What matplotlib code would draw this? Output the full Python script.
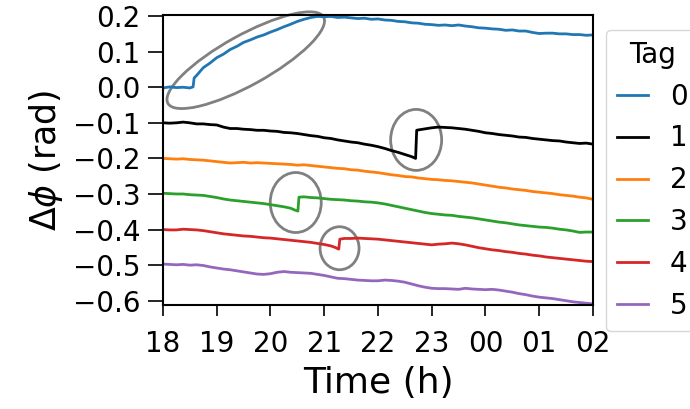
import matplotlib
matplotlib.use('Agg')
import matplotlib.pyplot as plt
from matplotlib.patches import Ellipse
from matplotlib.transforms import ScaledTranslation

# tag 0 (blue)
t0 = [18.0, 18.125, 18.25, 18.375, 18.5, 18.56, 18.58, 18.625, 18.75, 18.875, 19.0, 19.125, 19.25, 19.375,
      19.5, 19.625, 19.75, 19.875, 20.0, 20.125, 20.25, 20.375, 20.5, 20.625, 20.75, 20.875, 21.0, 21.125,
      21.25, 21.375, 21.5, 21.625, 21.75, 21.875, 22.0, 22.125, 22.25, 22.375, 22.5, 22.625, 22.75, 22.875,
      23.0, 23.125, 23.25, 23.375, 23.5, 23.625, 23.75, 23.875, 24.0, 24.125, 24.25, 24.375, 24.5, 24.625,
      24.75, 24.875, 25.0, 25.125, 25.25, 25.375, 25.5, 25.625, 25.75, 25.875, 26.0]
v0 = [-0.002, 0.001, -0.001, 0.000, -0.002, 0.001, 0.026, 0.033, 0.055, 0.068, 0.083, 0.093, 0.106, 0.115,
      0.126, 0.133, 0.141, 0.147, 0.155, 0.162, 0.170, 0.177, 0.185, 0.191, 0.196, 0.199, 0.198, 0.199,
      0.196, 0.197, 0.195, 0.193, 0.194, 0.191, 0.192, 0.189, 0.188, 0.185, 0.184, 0.181, 0.180, 0.177,
      0.176, 0.174, 0.175, 0.173, 0.175, 0.172, 0.170, 0.167, 0.166, 0.164, 0.163, 0.160, 0.161, 0.158,
      0.158, 0.154, 0.151, 0.152, 0.152, 0.150, 0.150, 0.148, 0.148, 0.146, 0.147]

# tag 1 (black)
t1 = [18.0, 18.125, 18.25, 18.375, 18.5, 18.625, 18.75, 18.875, 19.0, 19.125, 19.25, 19.375, 19.5, 19.625,
      19.75, 19.875, 20.0, 20.125, 20.25, 20.375, 20.5, 20.625, 20.75, 20.875, 21.0, 21.125, 21.25, 21.375,
      21.5, 21.625, 21.75, 21.875, 22.0, 22.125, 22.25, 22.375, 22.5, 22.625, 22.7, 22.72, 22.75, 22.875,
      23.0, 23.125, 23.25, 23.375, 23.5, 23.625, 23.75, 23.875, 24.0, 24.125, 24.25, 24.375, 24.5, 24.625,
      24.75, 24.875, 25.0, 25.125, 25.25, 25.375, 25.5, 25.625, 25.75, 25.875, 26.0]
v1 = [-0.100, -0.101, -0.100, -0.098, -0.100, -0.103, -0.103, -0.105, -0.106, -0.112, -0.116, -0.116, -0.118, -0.119,
      -0.121, -0.121, -0.123, -0.124, -0.127, -0.128, -0.130, -0.133, -0.136, -0.138, -0.142, -0.144, -0.148, -0.151,
      -0.154, -0.156, -0.160, -0.163, -0.167, -0.172, -0.178, -0.183, -0.189, -0.195, -0.200, -0.121, -0.120, -0.117,
      -0.114, -0.112, -0.113, -0.114, -0.116, -0.118, -0.121, -0.124, -0.128, -0.130, -0.133, -0.135, -0.137, -0.140,
      -0.141, -0.144, -0.146, -0.148, -0.150, -0.151, -0.154, -0.156, -0.158, -0.157, -0.160]

# tag 2 (orange)
t2 = [18.0, 18.125, 18.25, 18.375, 18.5, 18.625, 18.75, 18.875, 19.0, 19.125, 19.25, 19.375, 19.5, 19.625,
      19.75, 19.875, 20.0, 20.125, 20.25, 20.375, 20.5, 20.625, 20.75, 20.875, 21.0, 21.125, 21.25, 21.375,
      21.5, 21.625, 21.75, 21.875, 22.0, 22.125, 22.25, 22.375, 22.5, 22.625, 22.75, 22.875, 23.0, 23.125,
      23.25, 23.375, 23.5, 23.625, 23.75, 23.875, 24.0, 24.125, 24.25, 24.375, 24.5, 24.625, 24.75, 24.875,
      25.0, 25.125, 25.25, 25.375, 25.5, 25.625, 25.75, 25.875, 26.0]
v2 = [-0.200, -0.201, -0.202, -0.201, -0.203, -0.204, -0.205, -0.207, -0.209, -0.211, -0.213, -0.212, -0.211, -0.213,
      -0.212, -0.213, -0.214, -0.215, -0.216, -0.217, -0.219, -0.218, -0.220, -0.222, -0.224, -0.226, -0.228, -0.229,
      -0.232, -0.233, -0.236, -0.238, -0.240, -0.243, -0.246, -0.248, -0.251, -0.252, -0.255, -0.257, -0.259, -0.260,
      -0.262, -0.263, -0.265, -0.267, -0.269, -0.272, -0.275, -0.278, -0.281, -0.283, -0.286, -0.288, -0.290, -0.293,
      -0.295, -0.297, -0.299, -0.302, -0.304, -0.306, -0.309, -0.311, -0.315]

# tag 3 (green)
t3 = [18.0, 18.125, 18.25, 18.375, 18.5, 18.625, 18.75, 18.875, 19.0, 19.125, 19.25, 19.375, 19.5, 19.625,
      19.75, 19.875, 20.0, 20.125, 20.25, 20.375, 20.45, 20.51, 20.53, 20.625, 20.75, 20.875, 21.0, 21.125,
      21.25, 21.375, 21.5, 21.625, 21.75, 21.875, 22.0, 22.125, 22.25, 22.375, 22.5, 22.625, 22.75, 22.875,
      23.0, 23.125, 23.25, 23.375, 23.5, 23.625, 23.75, 23.875, 24.0, 24.125, 24.25, 24.375, 24.5, 24.625,
      24.75, 24.875, 25.0, 25.125, 25.25, 25.375, 25.5, 25.625, 25.75, 25.875, 26.0]
v3 = [-0.298, -0.299, -0.300, -0.300, -0.302, -0.303, -0.304, -0.307, -0.310, -0.314, -0.317, -0.319, -0.321, -0.323,
      -0.325, -0.327, -0.330, -0.333, -0.336, -0.340, -0.345, -0.348, -0.309, -0.308, -0.310, -0.311, -0.313, -0.315,
      -0.316, -0.317, -0.319, -0.320, -0.322, -0.323, -0.325, -0.328, -0.332, -0.336, -0.340, -0.344, -0.348, -0.352,
      -0.355, -0.357, -0.359, -0.360, -0.363, -0.365, -0.367, -0.370, -0.373, -0.376, -0.379, -0.381, -0.384, -0.387,
      -0.389, -0.391, -0.393, -0.394, -0.396, -0.399, -0.401, -0.404, -0.408, -0.407, -0.407]

# tag 4 (red)
t4 = [18.0, 18.125, 18.25, 18.375, 18.5, 18.625, 18.75, 18.875, 19.0, 19.125, 19.25, 19.375, 19.5, 19.625,
      19.75, 19.875, 20.0, 20.125, 20.25, 20.375, 20.5, 20.625, 20.75, 20.875, 21.0, 21.125, 21.2, 21.27,
      21.29, 21.375, 21.5, 21.625, 21.75, 21.875, 22.0, 22.125, 22.25, 22.375, 22.5, 22.625, 22.75, 22.875,
      23.0, 23.125, 23.25, 23.375, 23.5, 23.625, 23.75, 23.875, 24.0, 24.125, 24.25, 24.375, 24.5, 24.625,
      24.75, 24.875, 25.0, 25.125, 25.25, 25.375, 25.5, 25.625, 25.75, 25.875, 26.0]
v4 = [-0.400, -0.401, -0.401, -0.399, -0.400, -0.401, -0.403, -0.406, -0.409, -0.412, -0.414, -0.416, -0.418, -0.419,
      -0.421, -0.423, -0.424, -0.426, -0.428, -0.430, -0.432, -0.434, -0.436, -0.439, -0.442, -0.446, -0.450, -0.455,
      -0.427, -0.425, -0.425, -0.424, -0.425, -0.426, -0.427, -0.429, -0.431, -0.433, -0.435, -0.437, -0.439, -0.441,
      -0.443, -0.441, -0.440, -0.438, -0.440, -0.443, -0.447, -0.451, -0.454, -0.457, -0.459, -0.462, -0.464, -0.467,
      -0.469, -0.472, -0.474, -0.477, -0.479, -0.481, -0.483, -0.485, -0.487, -0.489, -0.490]

# tag 5 (purple)
t5 = [18.0, 18.125, 18.25, 18.375, 18.5, 18.625, 18.75, 18.875, 19.0, 19.125, 19.25, 19.375, 19.5, 19.625,
      19.75, 19.875, 20.0, 20.125, 20.25, 20.375, 20.5, 20.625, 20.75, 20.875, 21.0, 21.125, 21.25, 21.375,
      21.5, 21.625, 21.75, 21.875, 22.0, 22.125, 22.25, 22.375, 22.5, 22.625, 22.75, 22.875, 23.0, 23.125,
      23.25, 23.375, 23.5, 23.625, 23.75, 23.875, 24.0, 24.125, 24.25, 24.375, 24.5, 24.625, 24.75, 24.875,
      25.0, 25.125, 25.25, 25.375, 25.5, 25.625, 25.75, 25.875, 26.0]
v5 = [-0.497, -0.498, -0.499, -0.498, -0.500, -0.499, -0.501, -0.505, -0.508, -0.511, -0.513, -0.516, -0.519, -0.522,
      -0.525, -0.526, -0.524, -0.520, -0.518, -0.520, -0.521, -0.522, -0.523, -0.526, -0.529, -0.533, -0.537, -0.538,
      -0.540, -0.542, -0.543, -0.544, -0.544, -0.542, -0.543, -0.545, -0.548, -0.553, -0.558, -0.562, -0.565, -0.566,
      -0.566, -0.567, -0.568, -0.565, -0.567, -0.568, -0.569, -0.568, -0.570, -0.573, -0.576, -0.580, -0.583, -0.587,
      -0.590, -0.592, -0.594, -0.597, -0.600, -0.603, -0.605, -0.607, -0.609]

tags = ['0', '1', '2', '3', '4', '5']
colors = ['#1f77b4', 'k', '#ff7f0e', '#2ca02c', '#d62728', '#9467bd']
series = [(t0, v0), (t1, v1), (t2, v2), (t3, v3), (t4, v4), (t5, v5)]

xtick_pos = [18, 19, 20, 21, 22, 23, 24, 25, 26]
xtick_lab = ['18', '19', '20', '21', '22', '23', '00', '01', '02']

# highlighted events: centre (h, rad), width/height (in), angle
marks_xy = [(19.54, 0.076), (22.71, -0.148), (20.47, -0.324), (21.285, -0.4525)]
marks_wh = [(1.78, 0.50, 29), (0.51, 0.61, 0), (0.51, 0.60, 0), (0.39, 0.43, 0)]

fig = plt.figure(figsize=(6.9, 4.09), dpi=100)
ax = fig.add_axes([0.2362, 0.2543, 0.6232, 0.709])

for (t, v), c, lab in zip(series, colors, tags):
    ax.plot(t, v, color=c, lw=2.0, label=lab)

ax.set_xlim(18, 26)
ax.set_ylim(-0.612, 0.203)
ax.set_xticks(xtick_pos)
ax.set_xticklabels(xtick_lab)
ax.set_yticks([0.2, 0.1, 0.0, -0.1, -0.2, -0.3, -0.4, -0.5, -0.6])
ax.tick_params(axis='both', which='major', labelsize=20, width=1.2)
ax.tick_params(axis='x', length=8, pad=10)
ax.tick_params(axis='y', length=11, pad=5)
for s in ax.spines.values():
    s.set_linewidth(1.5)

ax.set_xlabel('Time (h)', fontsize=26, labelpad=6)
ax.set_ylabel(r'$\Delta\phi$ (rad)', fontsize=25, labelpad=6)

for (x, y), (w, h, a) in zip(marks_xy, marks_wh):
    tr = fig.dpi_scale_trans + ScaledTranslation(x, y, ax.transData)
    ax.add_patch(Ellipse((0, 0), w, h, angle=a, transform=tr, fill=False,
                         edgecolor='#808080', lw=2, clip_on=False))

ax.legend(title='Tag', fontsize=20, title_fontsize=20, loc='upper left',
          bbox_to_anchor=(1.03, 0.95), borderaxespad=0, handlelength=1.1,
          labelspacing=0.5)

fig.savefig('out.png', dpi=100)
